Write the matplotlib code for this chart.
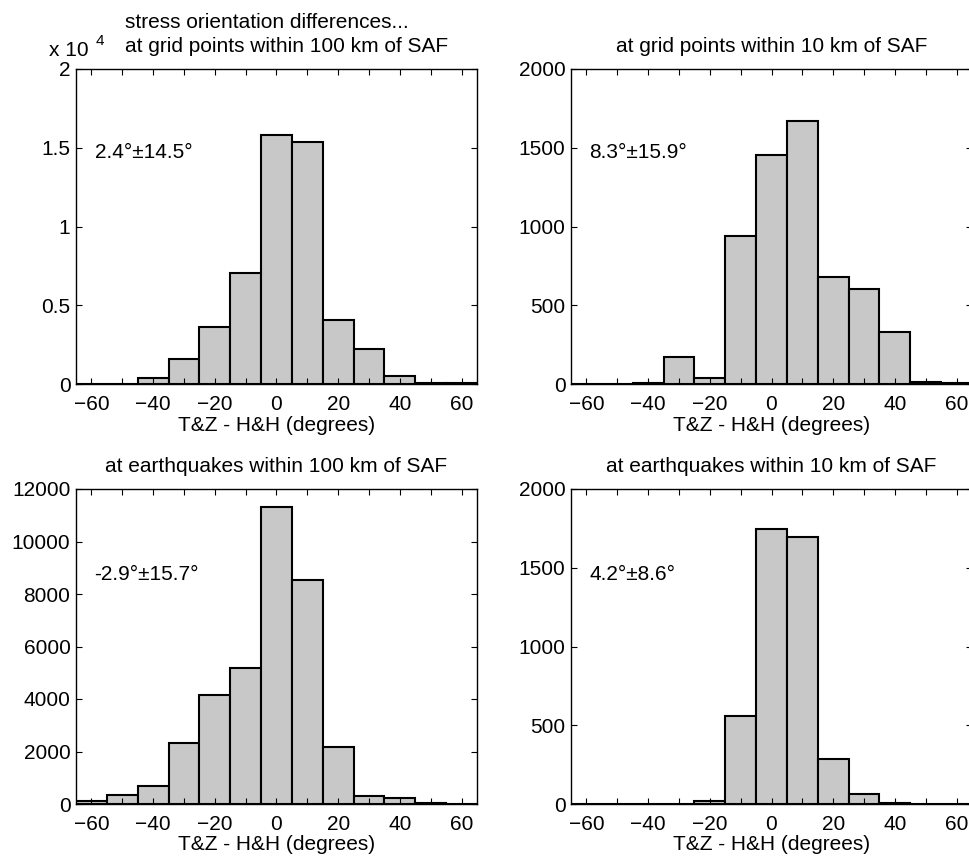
import numpy as np
import matplotlib
matplotlib.use("Agg")
import matplotlib.pyplot as plt
from matplotlib.ticker import MultipleLocator

plt.rcParams['font.family'] = ['Liberation Sans', 'DejaVu Sans']

# bin centres (degrees), width 10
centers = [-60, -50, -40, -30, -20, -10, 0, 10, 20, 30, 40, 50, 60]

# counts
grid_100km = [10, 30, 400, 1600, 3620, 7030, 15830, 15390, 4080, 2220, 530, 80, 50]
grid_10km = [2, 3, 8, 169, 38, 942, 1452, 1672, 679, 605, 330, 10, 6]
quake_100km = [100, 330, 673, 2311, 4152, 5168, 11302, 8533, 2184, 317, 241, 25, 5]
quake_10km = [1, 1, 3, 2, 19, 559, 1748, 1695, 288, 63, 8, 2, 1]

titles = ["at grid points within 100 km of SAF",
          "at grid points within 10 km of SAF",
          "at earthquakes within 100 km of SAF",
          "at earthquakes within 10 km of SAF"]
stats = ["2.4°±14.5°", "8.3°±15.9°", "-2.9°±15.7°", "4.2°±8.6°"]
xlabel = "T&Z - H&H (degrees)"

W, H = 970, 858
fs = 15
fig = plt.figure(figsize=(W / 100, H / 100), dpi=100)


def add_axes(left, top, width=401, height=315):
    return fig.add_axes([left / W, (H - top - height) / H, width / W, height / H])


def style(ax, ymax, yticks, yticklabels):
    ax.set_xlim(-65, 65)
    ax.set_ylim(0, ymax)
    ax.xaxis.set_major_locator(MultipleLocator(20))
    ax.xaxis.set_minor_locator(MultipleLocator(10))
    ax.set_yticks(yticks)
    ax.set_yticklabels(yticklabels)
    ax.tick_params(which='both', direction='in', top=True, right=True,
                   length=4, width=0.8, labelsize=fs, pad=4)
    ax.tick_params(axis='x', pad=8)
    for s in ax.spines.values():
        s.set_linewidth(1.0)
    ax.set_xlabel(xlabel, fontsize=fs, labelpad=1)


ax1 = add_axes(76, 69)
ax1.bar(centers, np.array(grid_100km) / 1e4, width=10, color='#c8c8c8',
        edgecolor='black', linewidth=1.5)
style(ax1, 2, [0, 0.5, 1, 1.5, 2], ["0", "0.5", "1", "1.5", "2"])
ax1.text(-59, 1.47, stats[0], fontsize=fs, va='center')
fig.text(125 / W, 1 - 23 / H, "stress orientation differences...", fontsize=fs, va='center')
fig.text(125 / W, 1 - 46 / H, titles[0], fontsize=fs, va='center')
fig.text(49 / W, 1 - 51 / H, "x 10", fontsize=fs, va='center')
fig.text(96 / W, 1 - 41 / H, "4", fontsize=11, va='center')

ax2 = add_axes(571, 69)
ax2.bar(centers, grid_10km, width=10, color='#c8c8c8', edgecolor='black', linewidth=1.5)
style(ax2, 2000, [0, 500, 1000, 1500, 2000], ["0", "500", "1000", "1500", "2000"])
ax2.text(-59, 1470, stats[1], fontsize=fs, va='center')
ax2.set_title(titles[1], fontsize=fs, pad=12)

ax3 = add_axes(76, 489)
ax3.bar(centers, quake_100km, width=10, color='#c8c8c8', edgecolor='black', linewidth=1.5)
yt = [0, 2000, 4000, 6000, 8000, 10000, 12000]
style(ax3, 12000, yt, [str(v) for v in yt])
ax3.text(-59, 8760, stats[2], fontsize=fs, va='center')
ax3.set_title(titles[2], fontsize=fs, pad=12)

ax4 = add_axes(571, 489)
ax4.bar(centers, quake_10km, width=10, color='#c8c8c8', edgecolor='black', linewidth=1.5)
style(ax4, 2000, [0, 500, 1000, 1500, 2000], ["0", "500", "1000", "1500", "2000"])
ax4.text(-59, 1460, stats[3], fontsize=fs, va='center')
ax4.set_title(titles[3], fontsize=fs, pad=12)

fig.savefig("out.png", dpi=100)
